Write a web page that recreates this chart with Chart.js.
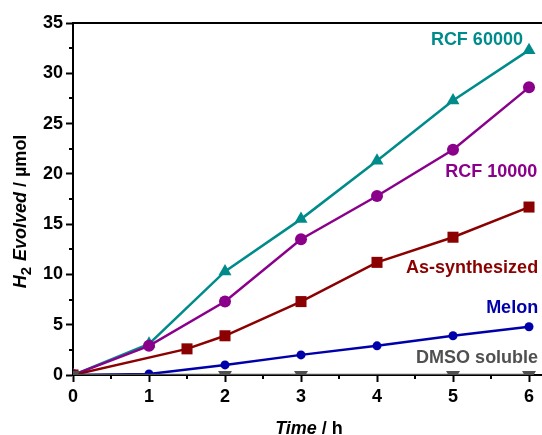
<!DOCTYPE html>
<html>
<head>
<meta charset="utf-8">
<script src="https://cdn.jsdelivr.net/npm/chart.js@4/dist/chart.umd.min.js"></script>
<style>
  html, body { margin: 0; padding: 0; background: #fff; overflow: hidden; }
  canvas { display: block; }
</style>
</head>
<body>
<canvas id="chart" width="542" height="435"></canvas>
<script>
// H2 evolution vs time for the carbon nitride fractions

const hours = [0, 1, 2, 3, 4, 5, 6];
const asSynthHours = [0, 1.5, 2, 3, 4, 5, 6];
const dmsoHours = [0, 2, 3, 5, 6];

const rcf60000 = [0, 3.1, 10.3, 15.5, 21.3, 27.3, 32.3];
const rcf10000 = [0, 2.9, 7.3, 13.5, 17.8, 22.4, 28.6];
const asSynth = [0, 2.6, 3.9, 7.3, 11.2, 13.7, 16.7];
const melon = [0, 0.1, 1.0, 2.0, 2.9, 3.9, 4.8];
const dmso = [0, 0, 0, 0, 0];

const seriesNames = ['RCF 60000', 'RCF 10000', 'As-synthesized', 'Melon', 'DMSO soluble'];
const xTicks = [0, 1, 2, 3, 4, 5, 6];
const yTicks = [0, 5, 10, 15, 20, 25, 30, 35];

const teal = 'rgb(0, 139, 139)';
const purple = 'rgb(139, 0, 139)';
const darkRed = 'rgb(139, 0, 0)';
const blue = 'rgb(0, 0, 170)';
const grey = 'rgb(80, 80, 80)';

const FONT = '"Liberation Sans", Arial, sans-serif';

function pts(xs, ys) {
    return xs.map(function (x, i) { return { x: x, y: ys[i] }; });
}

// label anchors (right edge, vertical middle) in data units
const seriesLabels = [
    { text: seriesNames[0], x: 5.92, y: 33.3, color: teal },
    { text: seriesNames[1], x: 6.11, y: 20.2, color: purple },
    { text: seriesNames[2], x: 6.12, y: 10.6, color: darkRed },
    { text: seriesNames[3], x: 6.12, y: 6.7, color: blue },
    { text: seriesNames[4], x: 6.12, y: 1.7, color: grey }
];

const decorations = {
    id: 'decorations',
    afterDraw: function (chart) {
        const ctx = chart.ctx;
        const area = chart.chartArea;
        const xs = chart.scales.x;
        const ys = chart.scales.y;

        ctx.save();
        ctx.strokeStyle = '#000';
        ctx.lineWidth = 2;

        // top frame line, runs to the cropped right edge
        ctx.beginPath();
        ctx.moveTo(area.left - 1, area.top);
        ctx.lineTo(chart.width, area.top);
        ctx.stroke();

        // minor ticks
        ctx.beginPath();
        for (let v = 0.5; v < 6.2; v += 1) {
            const px = Math.round(xs.getPixelForValue(v));
            ctx.moveTo(px, area.bottom);
            ctx.lineTo(px, area.bottom + 4);
        }
        for (let v = 2.5; v < 35; v += 5) {
            const py = Math.round(ys.getPixelForValue(v));
            ctx.moveTo(area.left, py);
            ctx.lineTo(area.left - 4, py);
        }
        ctx.stroke();

        // series labels
        ctx.font = 'bold 18px ' + FONT;
        ctx.textAlign = 'right';
        ctx.textBaseline = 'middle';
        seriesLabels.forEach(function (l) {
            ctx.fillStyle = l.color;
            ctx.fillText(l.text, xs.getPixelForValue(l.x), ys.getPixelForValue(l.y));
        });

        // x title: "Time / h"
        ctx.fillStyle = '#000';
        ctx.textAlign = 'left';
        ctx.textBaseline = 'alphabetic';
        const xParts = [
            { t: 'Time', f: 'italic bold 18px ' + FONT },
            { t: ' / h', f: 'bold 18px ' + FONT }
        ];
        let w = 0;
        xParts.forEach(function (p) { ctx.font = p.f; w += ctx.measureText(p.t).width; });
        let cx = 309 - w / 2;
        xParts.forEach(function (p) {
            ctx.font = p.f;
            ctx.fillText(p.t, cx, 434);
            cx += ctx.measureText(p.t).width;
        });

        // y title: "H2 Evolved / µmol"
        const yParts = [
            { t: 'H', f: 'italic bold 18px ' + FONT, dy: 0 },
            { t: '2', f: 'bold 15px ' + FONT, dy: 5 },
            { t: ' Evolved', f: 'italic bold 18px ' + FONT, dy: 0 },
            { t: ' / µmol', f: 'bold 18px ' + FONT, dy: 0 }
        ];
        w = 0;
        yParts.forEach(function (p) { ctx.font = p.f; w += ctx.measureText(p.t).width; });
        ctx.translate(26, 212);
        ctx.rotate(-Math.PI / 2);
        let tx = -w / 2;
        yParts.forEach(function (p) {
            ctx.font = p.f;
            ctx.fillText(p.t, tx, p.dy);
            tx += ctx.measureText(p.t).width + (p.t === '2' ? 1 : 0);
        });
        ctx.restore();
    }
};

function lineSet(name, data, color, style, radius, rotation) {
    return {
        label: name,
        data: data,
        showLine: true,
        borderColor: color,
        backgroundColor: color,
        borderWidth: 2.5,
        pointStyle: style,
        pointRadius: radius,
        pointHoverRadius: radius,
        pointRotation: rotation || 0,
        pointBorderWidth: 0,
        tension: 0
    };
}

new Chart(document.getElementById('chart'), {
    type: 'scatter',
    data: {
        datasets: [
            lineSet(seriesNames[4], pts(dmsoHours, dmso), grey, 'triangle', 8, 180),
            lineSet(seriesNames[3], pts(hours, melon), blue, 'circle', 4.5),
            lineSet(seriesNames[2], pts(asSynthHours, asSynth), darkRed, 'rect', 7.8),
            lineSet(seriesNames[1], pts(hours, rcf10000), purple, 'circle', 6),
            lineSet(seriesNames[0], pts(hours, rcf60000), teal, 'triangle', 7.5)
        ]
    },
    options: {
        responsive: false,
        animation: false,
        layout: { autoPadding: false, padding: { top: 23, right: 0, left: 0, bottom: 0 } },
        plugins: {
            legend: { display: false },
            tooltip: { enabled: false },
            title: { display: false }
        },
        scales: {
            x: {
                type: 'linear',
                min: 0,
                max: 6.171,
                afterFit: function (s) {
                    s.height = 60;
                    s.paddingLeft = 0;
                    s.paddingRight = 0;
                },
                afterBuildTicks: function (s) { s.ticks = xTicks.map(function (v) { return { value: v }; }); },
                border: { display: true, color: '#000', width: 2 },
                grid: { drawOnChartArea: false, drawTicks: true, tickLength: 7, tickColor: '#000', tickWidth: 2 },
                ticks: {
                    color: '#000',
                    padding: 4,
                    font: { family: FONT, size: 18, weight: 'bold' },
                    maxRotation: 0
                }
            },
            y: {
                min: 0,
                max: 35,
                afterFit: function (s) {
                    s.width = 73;
                    s.paddingTop = 0;
                    s.paddingBottom = 0;
                },
                afterBuildTicks: function (s) { s.ticks = yTicks.map(function (v) { return { value: v }; }); },
                border: { display: true, color: '#000', width: 2 },
                grid: { drawOnChartArea: false, drawTicks: true, tickLength: 7, tickColor: '#000', tickWidth: 2 },
                ticks: {
                    color: '#000',
                    padding: 3,
                    font: { family: FONT, size: 18, weight: 'bold' }
                }
            }
        }
    },
    plugins: [decorations]
});
</script>
</body>
</html>
